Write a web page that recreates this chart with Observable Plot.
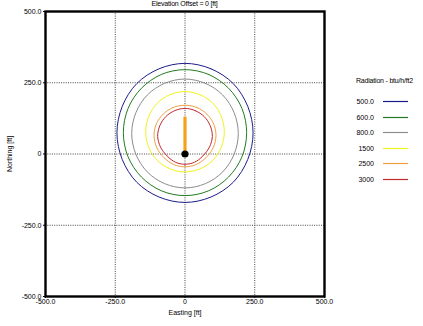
<!DOCTYPE html>
<html><head><meta charset="utf-8">
<script src="https://cdn.jsdelivr.net/npm/d3@7"></script>
<script src="https://cdn.jsdelivr.net/npm/@observablehq/plot@0.6"></script>
<style>
body{margin:0;background:#fff;font-family:"Liberation Sans",Arial,sans-serif;}
#wrap{position:relative;width:423px;height:326px;}
#title{position:absolute;left:0;width:369px;top:0;text-align:center;font-size:7px;letter-spacing:-0.2px;}
#legend{position:absolute;left:340px;top:76px;}
</style></head>
<body>
<div id="wrap"><div id="title">Elevation Offset = 0 [ft]</div><div id="legend"></div></div>
<script>
const titleText = "Elevation Offset = 0 [ft]";
const xLabel = "Easting [ft]";
const yLabel = "Northing [ft]";
const legendTitle = "Radiation - btu/h/ft2";
const levels = ["500.0","600.0","800.0","1500","2500","3000"];
const levelColors = ["#1c1c8a","#247a24","#8c8c8c","#f2f21c","#eea040","#c02830"];
const tickValues = [-500,-250,0,250,500];
const tickLabels = ["-500.0","-250.0","0","250.0","500.0"];
const gridValues = [-250,0,250];

// contour vertices (Easting, Northing in ft)
const c500x  = [0,93,173,225,244,225,173,93,0,-93,-173,-225,-244,-225,-173,-93];
const c500y  = [318,299,247,167,74,-19,-99,-151,-170,-151,-99,-19,74,167,247,299];
const c600x  = [0,85,156,204,221,204,156,85,0,-85,-156,-204,-221,-204,-156,-85];
const c600y  = [296,279,231,160,75,-10,-81,-129,-146,-129,-81,-10,75,160,231,279];
const c800x  = [0,73,135,176,191,176,135,73,0,-73,-135,-176,-191,-176,-135,-73];
const c800y  = [263,248,207,145,72,-1,-63,-104,-119,-104,-63,-1,72,145,207,248];
const c1500x = [0,54,100,130,141,130,100,54,0,-54,-100,-130,-141,-130,-100,-54];
const c1500y = [219,208,178,132,78,24,-22,-52,-63,-52,-22,24,78,132,178,208];
const c2500x = [0,43,78,103,111,101,75,40,0,-40,-75,-101,-111,-103,-78,-43];
const c2500y = [171,163,140,105,64,22,-13,-37,-45,-37,-13,22,64,105,140,163];
const c3000x = [0,37,69,90,98,88,64,34,0,-34,-64,-88,-98,-90,-69,-37];
const c3000y = [160,152,131,100,62,25,-7,-29,-36,-29,-7,25,62,100,131,152];
const contourX = [c500x,c600x,c800x,c1500x,c2500x,c3000x];
const contourY = [c500y,c600y,c800y,c1500y,c2500y,c3000y];

const flameX = [0,0];
const flameY = [0,131];
const sourceX = [0];
const sourceY = [0];

const rows = [];
levels.forEach((lv,i)=>contourX[i].forEach((x,j)=>rows.push({level:lv,x,y:contourY[i][j]})));
const flame = flameX.map((x,i)=>({x,y:flameY[i]}));
const source = sourceX.map((x,i)=>({x,y:sourceY[i]}));

const fmt = d => tickLabels[tickValues.indexOf(d)];

const chart = Plot.plot({
  width:423, height:326,
  marginLeft:45, marginRight:99, marginTop:11, marginBottom:30,
  style:{fontFamily:"Liberation Sans, Arial, sans-serif", fontSize:"7px", background:"transparent"},
  x:{domain:[-500,500]},
  y:{domain:[-500,500]},
  color:{domain:levels, range:levelColors},
  marks:[
    Plot.gridX(gridValues,{stroke:"#444",strokeOpacity:1,strokeDasharray:"1,1.3"}),
    Plot.gridY(gridValues,{stroke:"#444",strokeOpacity:1,strokeDasharray:"1,1.3"}),
    Plot.line(rows,{x:"x",y:"y",z:"level",stroke:"level",strokeWidth:1,curve:"catmull-rom-closed"}),
    Plot.line(flame,{x:"x",y:"y",stroke:"#f5a21a",strokeWidth:3.2,strokeLinecap:"butt"}),
    Plot.dot(source,{x:"x",y:"y",r:3.6,fill:"black"}),
    Plot.frame({stroke:"black",strokeWidth:2.4}),
    Plot.axisX({ticks:tickValues,tickFormat:fmt,tickSize:2,tickPadding:1,label:null}),
    Plot.axisY({ticks:tickValues,tickFormat:fmt,tickSize:2,tickPadding:2,label:null}),
    Plot.axisX({ticks:[0],tickFormat:()=>xLabel,tickSize:0,tickPadding:14,label:null}),
    Plot.axisY({ticks:[0],tickFormat:()=>yLabel,tickSize:0,tickPadding:34,label:null,textAnchor:"middle",tickRotate:-90})
  ]
});
document.getElementById("wrap").appendChild(chart);
chart.style.position="absolute";chart.style.left="0";chart.style.top="0";
document.getElementById("title").textContent = titleText;

// legend as a small svg
const ns = "http://www.w3.org/2000/svg";
const lsvg = document.createElementNS(ns,"svg");
lsvg.setAttribute("width","83"); lsvg.setAttribute("height","115");
lsvg.setAttribute("font-family","Liberation Sans, Arial, sans-serif");
lsvg.setAttribute("font-size","7");
const tt = document.createElementNS(ns,"text");
tt.setAttribute("x","16"); tt.setAttribute("y","7"); tt.setAttribute("letter-spacing","-0.2");
tt.textContent = legendTitle; lsvg.appendChild(tt);
levels.forEach((lv,i)=>{
  const yy = Math.round(25 + i*15.5);
  const tx = document.createElementNS(ns,"text");
  tx.setAttribute("x","34"); tx.setAttribute("y",String(yy+2.5)); tx.setAttribute("text-anchor","end");
  tx.textContent = lv; lsvg.appendChild(tx);
  const ln = document.createElementNS(ns,"line");
  ln.setAttribute("x1","43"); ln.setAttribute("x2","68");
  ln.setAttribute("y1",String(yy+0.5)); ln.setAttribute("y2",String(yy+0.5));
  ln.setAttribute("stroke",levelColors[i]); ln.setAttribute("stroke-width","1.2");
  lsvg.appendChild(ln);
});
document.getElementById("legend").appendChild(lsvg);
</script>
</body></html>
